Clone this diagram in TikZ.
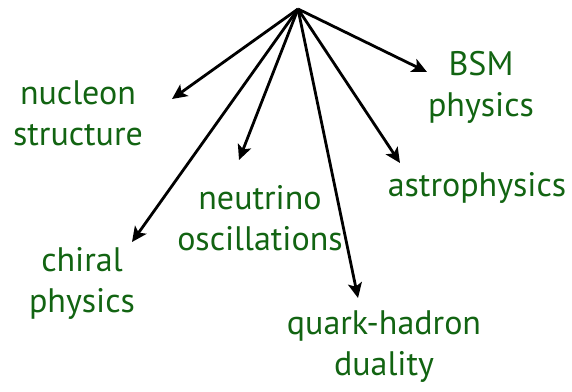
\documentclass[tikz,border=0pt]{standalone}
\usepackage{fontspec}
\setmainfont{PT Sans}
\usetikzlibrary{arrows.meta}
\definecolor{labgreen}{RGB}{18,100,18}
\tikzset{
  lab/.style={text=labgreen, align=center, inner sep=0pt, font=\fontsize{34}{41}\selectfont},
  arr/.style={line width=2.8pt, -{Stealth[length=15pt,width=14pt,inset=3.5pt]}}
}
\begin{document}
\begin{tikzpicture}[x=1pt,y=-1pt]
\useasboundingbox (0,0) rectangle (572,391);
\coordinate (src) at (298,9);
\coordinate (tNuc) at (172,99);
\coordinate (tBSM) at (427,72);
\coordinate (tChi) at (132,242);
\coordinate (tNeu) at (239,160);
\coordinate (tAst) at (400,163);
\coordinate (tQua) at (358,298);
\node[lab] (nuc) at (78,113) {nucleon\\structure};
\node[lab] (bsm) at (481,87) {BSM\\physics};
\node[lab] (neu) at (260,218) {neutrino\\oscillations};
\node[lab] (ast) at (477,188) {astrophysics};
\node[lab] (chi) at (82,283) {chiral\\physics};
\node[lab] (qua) at (384,347) {quark-hadron\\duality};
\draw[arr] (src) -- (tNuc);
\draw[arr] (src) -- (tBSM);
\draw[arr] (src) -- (tChi);
\draw[arr] (src) -- (tNeu);
\draw[arr] (src) -- (tAst);
\draw[arr] (src) -- (tQua);
\end{tikzpicture}
\end{document}
